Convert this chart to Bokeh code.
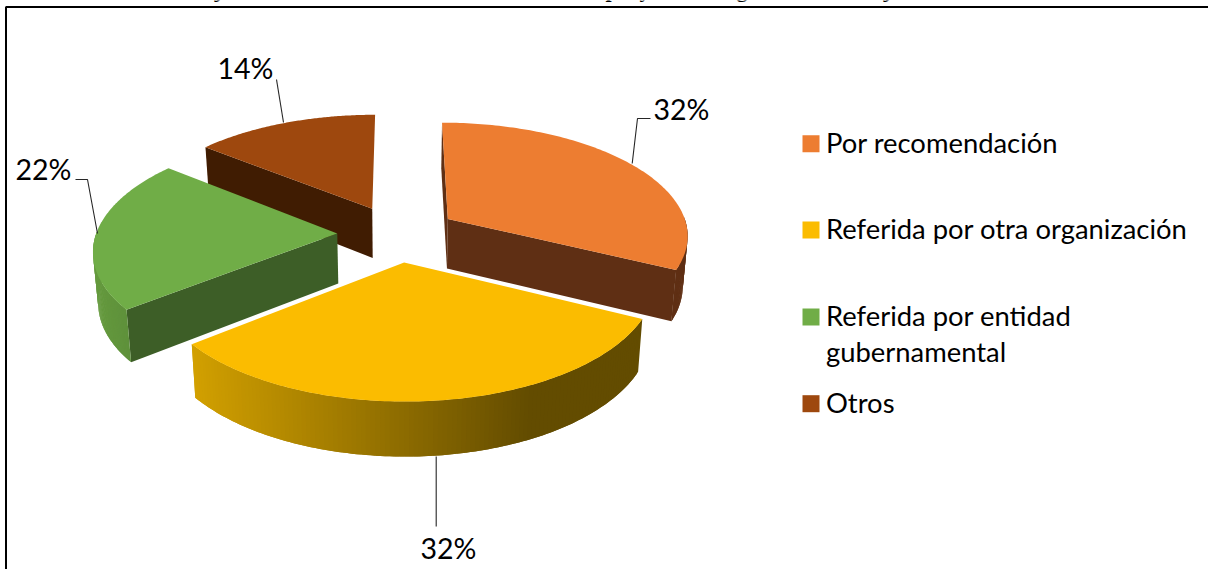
import numpy as np
from bokeh.embed import file_html
from bokeh.resources import INLINE
from bokeh.plotting import figure
from bokeh.models import Range1d
from bokeh.core.properties import value

categories = ["Por recomendación", "Referida por otra organización", "Referida por entidad\ngubernamental", "Otros"]
shares = [32.3, 32.0, 21.5, 14.2]
top_colors = ["#ED7D31", "#FBBC00", "#70AD47", "#9E480E"]
wall_colors = ["#5F2F14", "#634C00", "#3D5E27", "#401C02"]
rim_left = ["#5F2F14", "#D2A000", "#659A3E", "#401C02"]
rim_right = ["#5F2F14", "#634C00", "#568537", "#401C02"]
label_texts = ["32%", "32%", "22%", "14%"]

W, H = 1208, 569
CX, CY, A, B, K = 397.0, 233.0, 241.0, 112.5, 0.1316
EXPLODE, H0, HK, SHRINK = 0.25, 50.0, 0.08, 0.983
TEXT_SHIFT = -9.5

p = figure(width=W, height=H, x_range=Range1d(0, W), y_range=Range1d(H, 0),
           output_backend="svg", toolbar_location=None, min_border=0,
           outline_line_color=None, background_fill_color="white", border_fill_color="white")
p.axis.visible = False
p.grid.visible = False
p.styles = {"position": "absolute", "left": "0px", "top": "0px"}

def top(lx, ly):
    s = 1.0 / (1.0 - K * ly)
    return CX + A * lx * s, CY + B * ly * s

def bottom(lx, ly):
    x, y = top(lx, ly)
    return CX + (x - CX) * SHRINK, y + H0 * (1 + HK * ly)

def hex_mix(c0, c1, t):
    a = [int(c0[i:i + 2], 16) for i in (1, 3, 5)]
    b = [int(c1[i:i + 2], 16) for i in (1, 3, 5)]
    return "#%02x%02x%02x" % tuple(int(round(u + (v - u) * t)) for u, v in zip(a, b))

def poly(xs, ys, c):
    p.patch(list(xs), list(ys), fill_color=c, line_color=None)

fracs = np.cumsum([0] + shares) / sum(shares)
slices = []
for i in range(len(shares)):
    t0, t1 = 2 * np.pi * fracs[i], 2 * np.pi * fracs[i + 1]
    mid = (t0 + t1) / 2
    ox, oy = EXPLODE * np.sin(mid), -EXPLODE * np.cos(mid)
    t = np.linspace(t0, t1, 120)
    slices.append((i, ox, oy, t))

for i, ox, oy, t in [slices[3], slices[0], slices[2], slices[1]]:
    lx, ly = ox + np.sin(t), oy - np.cos(t)
    tx, ty = top(lx, ly)
    bx, by = bottom(lx, ly)
    ax, ay = top(ox, oy)
    a2x, a2y = bottom(ox, oy)
    # radial walls that face the viewer
    if -np.sin(t[0]) >= 0:
        poly([ax, tx[0], bx[0], a2x], [ay, ty[0], by[0], a2y], wall_colors[i])
    if np.sin(t[-1]) > 0:
        poly([ax, tx[-1], bx[-1], a2x], [ay, ty[-1], by[-1], a2y], wall_colors[i])
    # outer rim: only its front-facing part, shaded across its width
    span = (tx.min(), 530.0) if i == 1 else (tx.min(), tx.max())
    vis = np.where(np.cos(t) < 0.03)[0]
    for a, b in zip(vis[:-1], vis[1:]):
        e = min(b + 1, vis[-1])
        m = float(np.clip(((tx[a] + tx[b]) / 2 - span[0]) / max(span[1] - span[0], 1), 0, 1))
        idx = np.arange(a, e + 1)
        poly(np.r_[tx[idx], bx[idx][::-1]], np.r_[ty[idx], by[idx][::-1]],
             hex_mix(rim_left[i], rim_right[i], m))
    # top face
    poly(np.r_[ax, tx], np.r_[ay, ty], top_colors[i])

FONT = value("Lato")
def label(x, y, s, size, font=FONT, style="normal"):
    p.text([x], [y + TEXT_SHIFT], text=[s], text_font=font, text_font_size=size, text_color="#000000",
           text_baseline="alphabetic", text_align="left", text_font_style=style)

leaders = [([631.7, 637, 650], [163, 118, 118]),
           ([435.7, 435.7], [456, 526]),
           ([75, 87, 97], [179, 179, 233]),
           ([276, 283], [79, 122])]
for xs, ys in leaders:
    p.line(xs, ys, line_color="#262626", line_width=1.1)

label_pos = [(653, 118), (420, 557), (15, 178), (217, 77)]
for (x, y), s in zip(label_pos, label_texts):
    label(x, y, s, "28.5px")

legend_base = [151.7, 238, 325, 411.7]
for c, base, name in zip(top_colors, legend_base, categories):
    p.quad(left=802, right=819, bottom=base, top=base - 17, fill_color=c, line_color=None)
    for n, part in enumerate(name.split("\n")):
        label(825.5, base - 0.5 + n * 35.7, part, "27.4px")

# frame
p.line([5.5, 5.5, W], [H, 6.5, 6.5], line_color="#000000", line_width=2)

# clipped tails of the heading above the frame
for x, s in zip([214, 605, 639, 736, 883], ["j", "p", "y", "g", "j"]):
    label(x, -2, s, "22px", font=value("Liberation Serif"), style="bold")

open("out.html", "w").write(file_html(p, INLINE))
